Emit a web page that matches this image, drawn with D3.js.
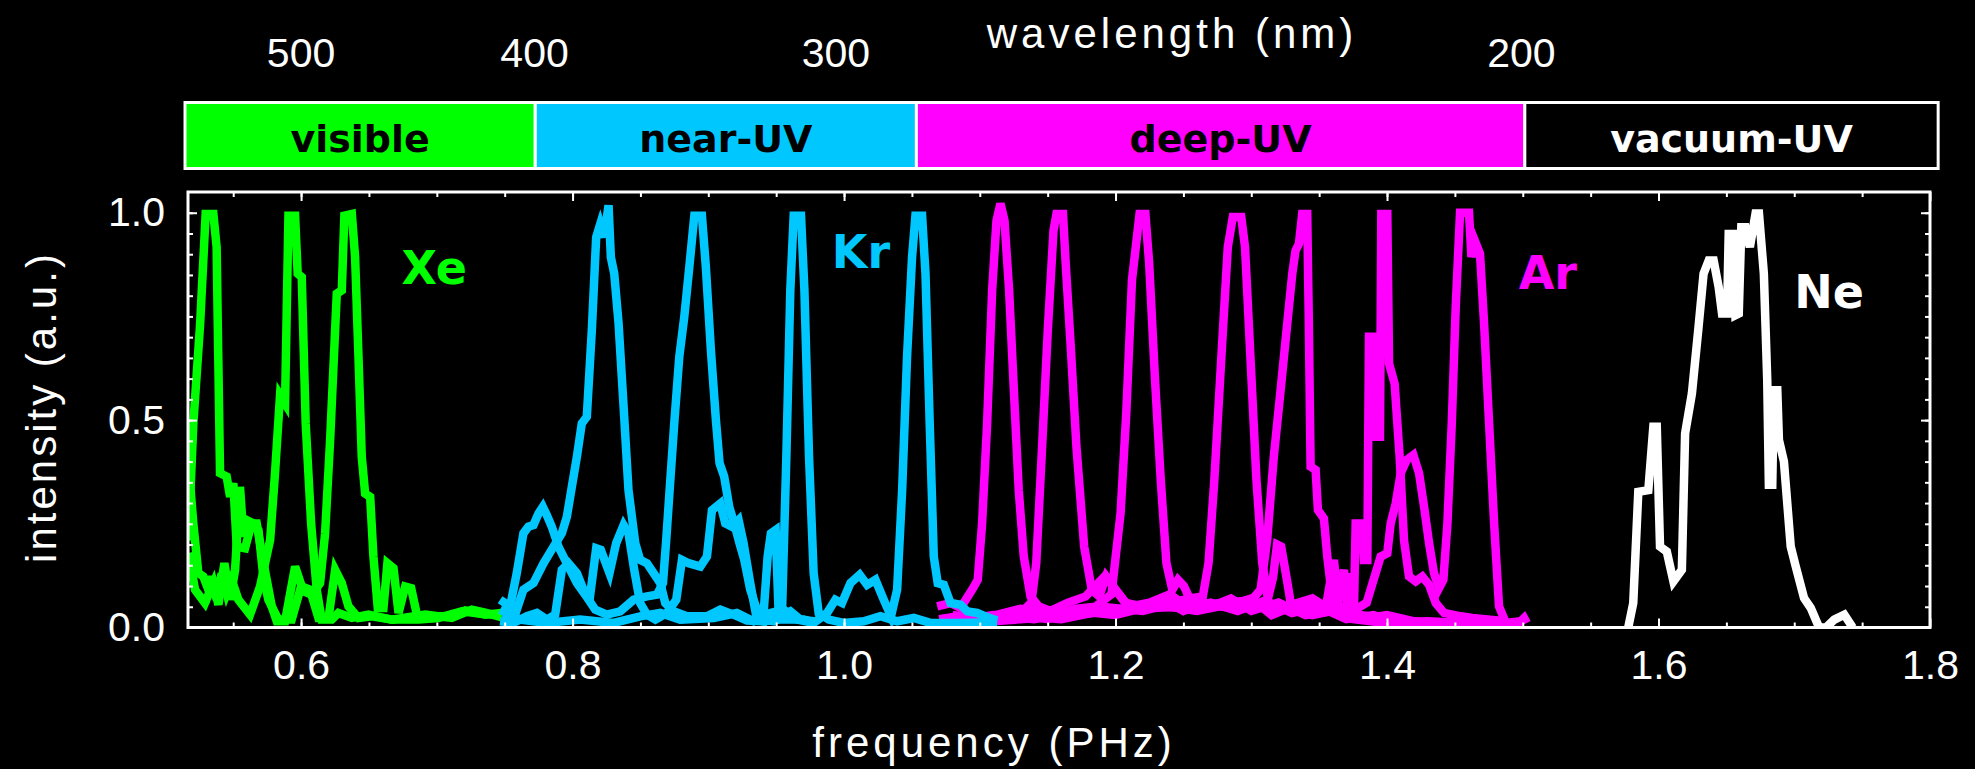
<!DOCTYPE html>
<html>
<head>
<style>
    body { margin: 0; background: #000; }
    svg { display: block; background: #000; }
    text { font-family: "Liberation Sans", Arial, sans-serif; fill: #fff; }
    .bold { font-family: "DejaVu Sans", sans-serif; font-weight: bold; }
    .trace { fill: none; stroke-linejoin: miter; }
    .tick line { stroke: #fff; stroke-width: 2; }
</style>
</head>
<body>
<svg id="chart" width="1975" height="769"></svg>

<script src="https://d3js.org/d3.v7.min.js"></script>
<script>
// ---- data: [frequency (PHz), intensity (a.u.)] ----
const xe1 = [[0.517,0.21],[0.5206,0.49],[0.5256,0.73],[0.5297,0.997],[0.5354,0.997],[0.5378,0.917],[0.539,0.652],[0.5403,0.372],[0.5452,0.364],[0.5477,0.315],[0.5501,0.348],[0.5526,0.195],[0.5587,0.191],[0.5636,0.251],[0.5673,0.251],[0.571,0.179],[0.5747,0.115],[0.5784,0.051],[0.5821,0.015],[0.5882,0.015],[0.5956,0.147],[0.6005,0.099],[0.6066,0.091],[0.6128,0.023],[0.6202,0.023],[0.6251,0.139],[0.63,0.107],[0.6349,0.051],[0.6423,0.023],[0.6521,0.027],[0.6668,0.019],[0.6865,0.019],[0.7012,0.023],[0.7184,0.039],[0.7283,0.035],[0.7475,0.03]]
const xe2 = [[0.517,0.40],[0.5206,0.251],[0.5243,0.131],[0.528,0.123],[0.5317,0.091],[0.5342,0.123],[0.5378,0.067],[0.5415,0.131],[0.5452,0.083],[0.5489,0.115],[0.5538,0.067],[0.5624,0.031],[0.5698,0.099],[0.5772,0.211],[0.5808,0.372],[0.5845,0.56],[0.5882,0.54],[0.5907,0.993],[0.5956,0.993],[0.5975,0.853],[0.6005,0.845],[0.6034,0.492],[0.6074,0.251],[0.6115,0.091],[0.6152,0.019],[0.6226,0.019],[0.6275,0.035],[0.6374,0.023],[0.6496,0.031],[0.6668,0.019],[0.6914,0.031],[0.711,0.023],[0.7258,0.043],[0.7356,0.036],[0.7475,0.025]]
const xe3 = [[0.517,0.18],[0.5219,0.091],[0.5292,0.059],[0.5354,0.107],[0.5391,0.055],[0.5435,0.155],[0.5477,0.067],[0.5514,0.139],[0.555,0.339],[0.5575,0.219],[0.56,0.259],[0.5649,0.251],[0.5686,0.235],[0.5722,0.123],[0.5759,0.067],[0.5833,0.019],[0.5931,0.019],[0.5993,0.091],[0.6079,0.079],[0.614,0.107],[0.6177,0.227],[0.6214,0.452],[0.6263,0.805],[0.63,0.813],[0.6319,0.993],[0.6374,0.997],[0.6398,0.893],[0.6423,0.652],[0.6447,0.412],[0.6472,0.323],[0.6509,0.315],[0.6533,0.171],[0.6565,0.047],[0.6607,0.047],[0.6636,0.155],[0.6681,0.143],[0.6718,0.035],[0.6767,0.099],[0.6811,0.095],[0.6853,0.031],[0.6963,0.027],[0.711,0.027],[0.7209,0.041],[0.7356,0.031],[0.7475,0.035]]

const kr1 = [[0.7479,0.023],[0.7565,0.019],[0.7638,0.091],[0.7712,0.107],[0.7786,0.155],[0.786,0.195],[0.7921,0.227],[0.7958,0.267],[0.7995,0.34],[0.8032,0.412],[0.8068,0.492],[0.8105,0.508],[0.8142,0.717],[0.8174,0.941],[0.8204,0.973],[0.8233,0.941],[0.8265,1.018],[0.8282,0.893],[0.8307,0.853],[0.8339,0.733],[0.8376,0.532],[0.8412,0.331],[0.8462,0.203],[0.8498,0.163],[0.8548,0.155],[0.8597,0.131],[0.8646,0.107],[0.8683,0.059],[0.8744,0.039],[0.8842,0.027],[0.899,0.027],[0.9088,0.043],[0.9186,0.031],[0.9285,0.017],[0.9407,0.015],[0.953,0.019],[0.9703,0.019],[0.98,0.01]]
const kr2 = [[0.7466,0.067],[0.754,0.051],[0.7589,0.131],[0.7638,0.227],[0.7675,0.243],[0.7712,0.247],[0.7749,0.275],[0.7781,0.291],[0.781,0.271],[0.7847,0.243],[0.7896,0.195],[0.7933,0.171],[0.7982,0.139],[0.8032,0.107],[0.8093,0.079],[0.8167,0.043],[0.8253,0.031],[0.8351,0.039],[0.845,0.067],[0.8548,0.075],[0.8621,0.079],[0.8666,0.107],[0.869,0.211],[0.8715,0.331],[0.8749,0.492],[0.8786,0.652],[0.8823,0.749],[0.886,0.869],[0.8897,0.993],[0.8953,0.993],[0.8982,0.869],[0.9019,0.669],[0.9056,0.5],[0.9083,0.396],[0.9117,0.364],[0.9154,0.291],[0.9191,0.251],[0.923,0.203],[0.9265,0.163],[0.9309,0.091],[0.9358,0.043],[0.9407,0.019],[0.9481,0.015],[0.953,0.027],[0.9604,0.039],[0.9678,0.019],[0.9776,0.015]]
const kr3 = [[0.7466,0.015],[0.7565,0.011],[0.7663,0.027],[0.7737,0.035],[0.781,0.019],[0.7872,0.031],[0.7921,0.139],[0.797,0.155],[0.8032,0.131],[0.8081,0.091],[0.813,0.079],[0.8174,0.191],[0.8208,0.187],[0.8272,0.131],[0.8321,0.203],[0.8376,0.247],[0.8412,0.227],[0.8454,0.139],[0.8498,0.059],[0.8548,0.031],[0.861,0.019],[0.8695,0.035],[0.8764,0.067],[0.8806,0.163],[0.8855,0.155],[0.8941,0.147],[0.899,0.171],[0.9027,0.283],[0.9088,0.299],[0.9125,0.251],[0.9174,0.243],[0.9223,0.259],[0.926,0.203],[0.9309,0.107],[0.9358,0.019],[0.9403,0.015],[0.9437,0.171],[0.9461,0.227],[0.9496,0.235],[0.952,0.019],[0.9543,0.035],[0.9575,0.412],[0.9604,0.813],[0.9629,0.993],[0.9683,0.993],[0.9708,0.813],[0.9742,0.412],[0.9776,0.131],[0.9813,0.035],[0.9887,0.019],[0.9998,0.011],[1.0145,0.015],[1.0268,0.027],[1.0391,0.015],[1.0514,0.023],[1.0636,0.011],[1.0833,0.011],[1.103,0.012],[1.1128,0.011]]
const kr4 = [[0.7466,0.043],[0.7614,0.019],[0.781,0.011],[0.8056,0.019],[0.8302,0.011],[0.8498,0.027],[0.8646,0.035],[0.8793,0.019],[0.9039,0.023],[0.921,0.035],[0.9334,0.015],[0.9457,0.035],[0.9555,0.043],[0.9654,0.019],[0.9776,0.011],[0.9875,0.035],[0.9936,0.067],[0.9985,0.059],[1.0047,0.107],[1.0115,0.127],[1.017,0.103],[1.0231,0.115],[1.0292,0.067],[1.0346,0.027],[1.0391,0.091],[1.0428,0.331],[1.0464,0.652],[1.0501,0.893],[1.0526,0.993],[1.0575,0.993],[1.06,0.853],[1.0631,0.492],[1.0661,0.171],[1.069,0.107],[1.0735,0.103],[1.0784,0.059],[1.0858,0.055],[1.0907,0.039],[1.0981,0.035],[1.1054,0.025],[1.1128,0.017]]

const ar1 = [[1.0686,0.051],[1.0784,0.059],[1.0858,0.047],[1.0943,0.091],[1.0985,0.115],[1.1017,0.251],[1.1054,0.492],[1.1091,0.813],[1.1123,0.981],[1.1152,1.022],[1.1182,0.981],[1.1216,0.813],[1.1251,0.572],[1.1287,0.331],[1.1324,0.171],[1.1374,0.075],[1.1435,0.051],[1.152,0.04],[1.165,0.06],[1.178,0.075],[1.188,0.11],[1.1925,0.125],[1.198,0.1],[1.207,0.06],[1.22,0.05],[1.235,0.07],[1.25,0.04],[1.265,0.06],[1.28,0.05],[1.3,0.07],[1.315,0.03],[1.33,0.05],[1.345,0.03],[1.36,0.04],[1.38,0.02],[1.4,0.03],[1.42,0.015],[1.44,0.01],[1.47,0.01],[1.5,0.01]]
const ar2 = [[1.07,0.02],[1.09,0.03],[1.11,0.02],[1.13,0.035],[1.138,0.06],[1.1416,0.155],[1.1459,0.436],[1.1501,0.717],[1.1543,0.957],[1.1565,0.997],[1.1613,0.997],[1.1633,0.877],[1.167,0.677],[1.1712,0.436],[1.1769,0.195],[1.1825,0.091],[1.188,0.075],[1.193,0.123],[1.198,0.1],[1.21,0.05],[1.225,0.06],[1.24,0.08],[1.255,0.045],[1.27,0.06],[1.29,0.04],[1.31,0.065],[1.33,0.035],[1.35,0.05],[1.37,0.02],[1.39,0.03],[1.41,0.01],[1.44,0.01],[1.48,0.005],[1.5,0.01]]
const ar3 = [[1.07,0.01],[1.1,0.02],[1.13,0.03],[1.15,0.02],[1.17,0.045],[1.185,0.05],[1.197,0.08],[1.2037,0.275],[1.2079,0.516],[1.2121,0.837],[1.2149,0.917],[1.2177,0.997],[1.222,0.997],[1.2248,0.877],[1.2291,0.597],[1.2333,0.356],[1.2375,0.155],[1.2418,0.091],[1.246,0.115],[1.2503,0.1],[1.256,0.06],[1.27,0.05],[1.285,0.07],[1.3,0.04],[1.32,0.06],[1.34,0.03],[1.36,0.04],[1.38,0.02],[1.41,0.015],[1.44,0.01],[1.5,0.005]]
const ar4 = [[1.08,0.02],[1.12,0.03],[1.16,0.02],[1.19,0.04],[1.22,0.05],[1.24,0.06],[1.255,0.07],[1.2643,0.075],[1.2685,0.155],[1.2728,0.356],[1.2784,0.677],[1.2827,0.917],[1.2864,0.99],[1.2926,0.99],[1.2954,0.917],[1.2996,0.637],[1.3038,0.356],[1.3081,0.155],[1.3123,0.07],[1.316,0.12],[1.319,0.2],[1.322,0.195],[1.326,0.12],[1.33,0.04],[1.345,0.05],[1.36,0.06],[1.38,0.03],[1.4,0.02],[1.43,0.01],[1.46,0.01],[1.5,0.005]]
const ar5 = [[1.09,0.01],[1.13,0.02],[1.17,0.03],[1.21,0.045],[1.25,0.05],[1.28,0.06],[1.3,0.065],[1.3068,0.091],[1.3117,0.211],[1.3166,0.412],[1.3216,0.572],[1.3265,0.733],[1.3302,0.853],[1.3326,0.909],[1.3351,0.925],[1.3375,0.997],[1.3412,0.997],[1.3424,0.733],[1.3437,0.388],[1.3474,0.38],[1.3491,0.283],[1.3535,0.263],[1.356,0.171],[1.3589,0.091],[1.3633,0.035],[1.375,0.02],[1.4,0.01],[1.43,0.015],[1.46,0.01],[1.5,0.005]]
const ar6 = [[1.08,0.015],[1.11,0.03],[1.14,0.02],[1.17,0.04],[1.2,0.03],[1.23,0.055],[1.26,0.04],[1.29,0.06],[1.32,0.045],[1.345,0.07],[1.355,0.05],[1.3609,0.163],[1.364,0.06],[1.3683,0.139],[1.371,0.05],[1.3732,0.131],[1.3745,0.03],[1.3757,0.051],[1.3769,0.251],[1.3818,0.251],[1.383,0.163],[1.3855,0.163],[1.3867,0.701],[1.3904,0.701],[1.3912,0.46],[1.3948,0.46],[1.3958,0.997],[1.4002,0.997],[1.4015,0.636],[1.4056,0.588],[1.4093,0.412],[1.4125,0.211],[1.4162,0.123],[1.4211,0.111],[1.426,0.123],[1.431,0.103],[1.4359,0.059],[1.442,0.035],[1.4543,0.027],[1.463,0.023],[1.4813,0.017],[1.4887,0.011]]
const ar7 = [[1.08,0.03],[1.1,0.02],[1.13,0.045],[1.16,0.03],[1.19,0.05],[1.22,0.04],[1.25,0.065],[1.28,0.05],[1.31,0.06],[1.33,0.04],[1.35,0.05],[1.37,0.03],[1.385,0.06],[1.3953,0.171],[1.4002,0.179],[1.4027,0.251],[1.4064,0.299],[1.4101,0.372],[1.4145,0.404],[1.4194,0.416],[1.4236,0.372],[1.4273,0.291],[1.431,0.203],[1.4346,0.131],[1.4383,0.095],[1.4415,0.115],[1.4445,0.251],[1.4477,0.492],[1.4506,0.773],[1.4538,1.0],[1.4604,1.0],[1.4622,0.893],[1.4646,0.933],[1.4685,0.901],[1.4715,0.733],[1.4752,0.492],[1.4789,0.251],[1.4825,0.051],[1.4875,0.011],[1.4985,0.015],[1.501,0.023],[1.503,0.011]]

const ne1 = [[1.5777,0],[1.5814,0.059],[1.5851,0.327],[1.5925,0.331],[1.5962,0.484],[1.5987,0.484],[1.6011,0.195],[1.6061,0.183],[1.611,0.111],[1.6172,0.139],[1.6196,0.468],[1.6246,0.564],[1.6295,0.725],[1.6332,0.853],[1.637,0.885],[1.6406,0.885],[1.6443,0.821],[1.6468,0.757],[1.6505,0.757],[1.6517,0.949],[1.6554,0.949],[1.6567,0.753],[1.6591,0.757],[1.661,0.965],[1.664,0.965],[1.6673,0.917],[1.6715,0.998],[1.674,0.998],[1.6776,0.853],[1.6801,0.596],[1.6813,0.344],[1.6838,0.344],[1.685,0.572],[1.6875,0.572],[1.6887,0.452],[1.6924,0.4],[1.6974,0.195],[1.7011,0.147],[1.7072,0.071],[1.7122,0.047],[1.7183,0],[1.7233,0],[1.7295,0.019],[1.7369,0.031],[1.7431,0]]

const gasNames = ["Xe", "Kr", "Ar", "Ne"]
const gasColors = ["#00ff00", "#00c8ff", "#ff00ff", "#ffffff"]
const gasTraces = [[xe1, xe2, xe3], [kr1, kr2, kr3, kr4], [ar1, ar2, ar3, ar4, ar5, ar6, ar7], [ne1]]
const gasLabelAt = [[0.674, 0.827], [0.991, 0.866], [1.497, 0.815], [1.70, 0.77]]

const bandNames = ["visible", "near-UV", "deep-UV", "vacuum-UV"]
const bandEdges = [0.5145, 0.7725, 1.0533, 1.5015, 1.806]   // PHz
const bandFill = ["#00ff00", "#00c8ff", "#ff00ff", "#000000"]
const bandInk = ["#000", "#000", "#000", "#fff"]

const wlLabels = ["500", "400", "300", "200"]
const wlFreq = [0.6, 0.772, 0.994, 1.499]

const xTicks = [0.6, 0.8, 1.0, 1.2, 1.4, 1.6, 1.8]
const yTicks = [0.0, 0.5, 1.0]

// ---- layout ----
let svg = d3.select("#chart")
let plot = {left: 188, right: 1930, top: 192, bottom: 627.5}

let xScale = d3.scaleLinear().domain([0.5167, 1.8]).range([plot.left, plot.right])
let yScale = d3.scaleLinear().domain([0, 1.05]).range([plot.bottom, plot.top])

// spectral band bar
let band = svg.append("g")
band.selectAll("rect")
    .data(bandNames)
    .join("rect")
    .attr("x", (d, i) => xScale(bandEdges[i]))
    .attr("width", (d, i) => xScale(bandEdges[i + 1]) - xScale(bandEdges[i]))
    .attr("y", 102.5)
    .attr("height", 66)
    .attr("fill", (d, i) => bandFill[i])
    .attr("stroke", "#fff")
    .attr("stroke-width", 3)
band.selectAll("text")
    .data(bandNames)
    .join("text")
    .attr("class", "bold")
    .attr("x", (d, i) => (xScale(bandEdges[i]) + xScale(bandEdges[i + 1])) / 2)
    .attr("y", 152)
    .attr("text-anchor", "middle")
    .attr("font-size", 38)
    .style("fill", (d, i) => bandInk[i])
    .text(d => d)

// wavelength labels on top
svg.append("g").selectAll("text")
    .data(wlLabels)
    .join("text")
    .attr("x", (d, i) => xScale(wlFreq[i]))
    .attr("y", 67)
    .attr("text-anchor", "middle")
    .attr("font-size", 41)
    .text(d => d)
svg.append("text")
    .attr("x", 1172).attr("y", 48)
    .attr("text-anchor", "middle")
    .attr("font-size", 42)
    .attr("letter-spacing", 4)
    .text("wavelength (nm)")

// traces, clipped to the frame
svg.append("clipPath").attr("id", "clip")
    .append("rect")
    .attr("x", plot.left).attr("y", plot.top)
    .attr("width", plot.right - plot.left).attr("height", plot.bottom - plot.top)

let valueLine = d3.line()
    .x(d => xScale(d[0]))
    .y(d => yScale(d[1]))

let body = svg.append("g").attr("clip-path", "url(#clip)")
let drawOrder = [0, 2, 1, 3]   // green, magenta, cyan, white
drawOrder.forEach(g => {
    body.append("g")
        .selectAll("path")
        .data(gasTraces[g])
        .join("path")
        .attr("class", "trace")
        .attr("stroke", gasColors[g])
        .attr("stroke-width", 8.5)
        .attr("d", valueLine)
})

// gas labels
svg.append("g").selectAll("text")
    .data(gasNames)
    .join("text")
    .attr("class", "bold")
    .attr("x", (d, i) => xScale(gasLabelAt[i][0]))
    .attr("y", (d, i) => yScale(gasLabelAt[i][1]))
    .attr("font-size", 46)
    .style("fill", (d, i) => gasColors[i])
    .text(d => d)

// axes: ticks pointing inward on all four sides
let xMinor = d3.range(0.55, 1.79, 0.05)
let yMinor = d3.range(0.05, 1.04, 0.05)

function styleAxis(g) {
    g.select(".domain").remove()
    g.selectAll("text")
        .attr("font-size", 41)
        .attr("font-family", "Liberation Sans, Arial, sans-serif")
        .style("fill", "#fff")
}

svg.append("g").attr("transform", `translate(0,${plot.bottom})`)
    .call(d3.axisBottom(xScale).tickValues(xMinor).tickSize(-5).tickFormat(""))
    .call(styleAxis)
svg.append("g").attr("transform", `translate(0,${plot.bottom})`)
    .call(d3.axisBottom(xScale).tickValues(xTicks).tickSize(-9).tickPadding(22).tickFormat(d3.format(".1f")))
    .call(styleAxis)
svg.append("g").attr("transform", `translate(0,${plot.top})`)
    .call(d3.axisTop(xScale).tickValues(xMinor).tickSize(-5).tickFormat(""))
    .call(styleAxis)
svg.append("g").attr("transform", `translate(0,${plot.top})`)
    .call(d3.axisTop(xScale).tickValues(xTicks).tickSize(-9).tickFormat(""))
    .call(styleAxis)

svg.append("g").attr("transform", `translate(${plot.left},0)`)
    .call(d3.axisLeft(yScale).tickValues(yMinor).tickSize(-5).tickFormat(""))
    .call(styleAxis)
svg.append("g").attr("transform", `translate(${plot.left},0)`)
    .call(d3.axisLeft(yScale).tickValues(yTicks).tickSize(-9).tickPadding(23).tickFormat(d3.format(".1f")))
    .call(styleAxis)
svg.append("g").attr("transform", `translate(${plot.right},0)`)
    .call(d3.axisRight(yScale).tickValues(yMinor).tickSize(-5).tickFormat(""))
    .call(styleAxis)
svg.append("g").attr("transform", `translate(${plot.right},0)`)
    .call(d3.axisRight(yScale).tickValues(yTicks).tickSize(-9).tickFormat(""))
    .call(styleAxis)

// frame
svg.append("rect")
    .attr("x", plot.left).attr("y", plot.top)
    .attr("width", plot.right - plot.left).attr("height", plot.bottom - plot.top)
    .attr("fill", "none")
    .attr("stroke", "#fff")
    .attr("stroke-width", 3)

// axis titles
svg.append("text")
    .attr("x", 994).attr("y", 757)
    .attr("text-anchor", "middle")
    .attr("font-size", 42)
    .attr("letter-spacing", 4)
    .text("frequency (PHz)")
svg.append("text")
    .attr("transform", "translate(56,407) rotate(-90)")
    .attr("text-anchor", "middle")
    .attr("font-size", 42)
    .attr("letter-spacing", 3)
    .text("intensity (a.u.)")
</script>
</body>
</html>
